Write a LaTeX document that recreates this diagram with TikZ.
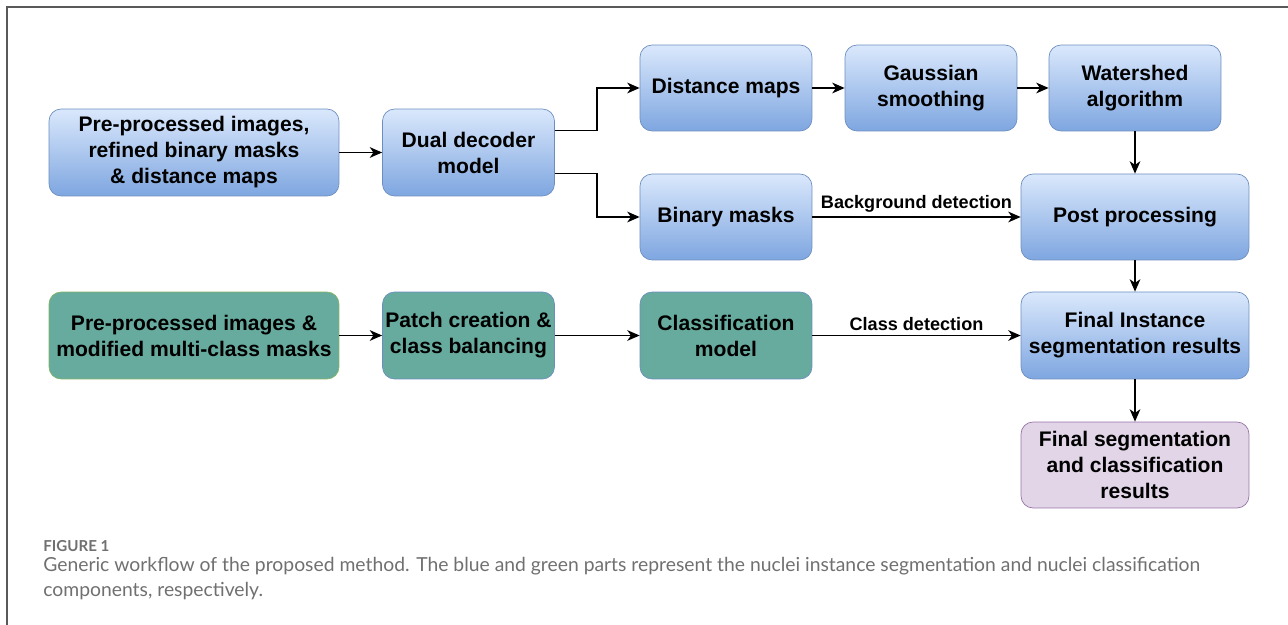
\documentclass[tikz,border=0pt]{standalone}
\usepackage{fontspec}
\setmainfont{Liberation Sans}
\newfontfamily\capfont{Lato}
\usetikzlibrary{arrows.meta,positioning,calc}
\usepackage{xcolor}

\definecolor{segTop}{HTML}{DAE8FC}
\definecolor{segBottom}{HTML}{7EA6E0}
\definecolor{segLine}{HTML}{6C8EBF}
\definecolor{clsFill}{HTML}{67AB9F}
\definecolor{clsLine}{HTML}{82B366}
\definecolor{outFill}{HTML}{E1D5E7}
\definecolor{outLine}{HTML}{9673A6}
\definecolor{capGray}{HTML}{707070}

\newcommand{\blockfont}{\fontsize{12}{14.8}\selectfont\bfseries}

\begin{document}
\begin{tikzpicture}[x=0.02cm, y=-0.02cm,
        seg/.style={draw=segLine, rounded corners=0.24cm, top color=segTop, bottom color=segBottom,
                    minimum width=3.44cm, minimum height=1.72cm, align=center, font=\blockfont},
        cls/.style={draw=segLine, rounded corners=0.24cm, fill=clsFill,
                    minimum width=3.44cm, minimum height=1.74cm, align=center, font=\blockfont},
        result/.style={draw=outLine, rounded corners=0.24cm, fill=outFill,
                    minimum width=4.56cm, minimum height=1.72cm, align=center, font=\blockfont},
        arrow/.style={-{Stealth[length=7pt,width=6pt,inset=2pt]}, line width=1.1pt},
        edgelabel/.style={font=\fontsize{10.3}{12}\selectfont\bfseries, inner sep=2pt}
    ]
    \useasboundingbox (0,0) rectangle (1288,625);

    % ---- frame ----
    \draw[line width=1.2pt, black!65] (7,625) -- (7,7) -- (1288,7);

    % ---- Instance segmentation branch (blue) ----
    \node[seg, minimum width=5.8cm, minimum height=1.74cm] (prep) at (194,152.5) {Pre-processed images,\\refined binary masks\\\& distance maps};
    \node[seg, minimum height=1.74cm] (dual) at (468.5,152.5) {Dual decoder\\model};
    \node[seg] (dist) at (726,88) {Distance maps};
    \node[seg] (gauss) at (931,88) {Gaussian\\smoothing};
    \node[seg] (water) at (1135,88) {Watershed\\algorithm};
    \node[seg] (bin) at (726,217) {Binary masks};
    \node[seg, minimum width=4.56cm] (post) at (1135,217) {Post processing};
    \node[seg, minimum width=4.56cm, minimum height=1.74cm] (inst) at (1135,335.5) {Final Instance\\segmentation results};

    % ---- Classification branch (green) ----
    \node[cls, draw=clsLine, minimum width=5.8cm] (prepcls) at (194,335.5) {Pre-processed images \&\\modified multi-class masks};
    \node[cls, inner xsep=0pt] (patch) at (468.5,335.5) {Patch creation \&\\class balancing};
    \node[cls] (clsmodel) at (726,335.5) {Classification\\model};

    % ---- Output ----
    \node[result] (final) at (1135,465) {Final segmentation\\and classification\\results};

    % Setas: segmentacao
    \draw[arrow] (prep) -- (dual);
    \draw[arrow] ([yshift=0.44cm]dual.east) -- ++(0.84cm,0) |- (dist.west);
    \draw[arrow] ([yshift=-0.42cm]dual.east) -- ++(0.84cm,0) |- (bin.west);
    \draw[arrow] (dist) -- (gauss);
    \draw[arrow] (gauss) -- (water);
    \draw[arrow] (water) -- (post);
    \draw[arrow] (bin) -- node[edgelabel, above] {Background detection} (post);
    \draw[arrow] (post) -- (inst);

    % Setas: classificacao
    \draw[arrow] (prepcls) -- (patch);
    \draw[arrow] (patch) -- (clsmodel);
    \draw[arrow] (clsmodel) -- node[edgelabel, above] {Class detection} (inst);
    \draw[arrow] (inst) -- (final);

    % ---- caption ----
    \node[anchor=west, inner sep=0pt, text=capGray, font=\capfont\fontsize{8.6}{10}\selectfont\bfseries] (figno) at (43,546) {FIGURE 1};
    \node[anchor=north west, inner sep=0pt, align=left, text=capGray, font=\capfont\fontsize{11}{14.2}\selectfont] (caption) at (43,557)
        {Generic workflow of the proposed method. The blue and green parts represent the nuclei instance segmentation and nuclei classification\\components, respectively.};
\end{tikzpicture}
\end{document}
